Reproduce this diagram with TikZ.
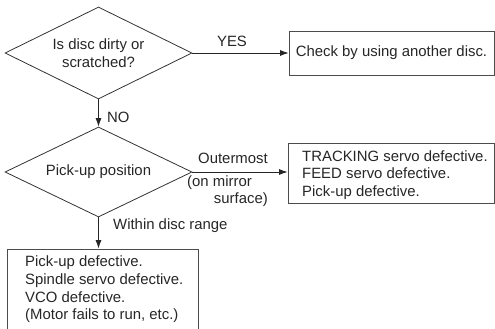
\documentclass[tikz,border=0pt]{standalone}
\usepackage{fontspec}
\setmainfont{Liberation Sans}
\usetikzlibrary{shapes.geometric,arrows.meta}
\begin{document}
\begin{tikzpicture}[x=1pt,y=-1pt,
  every node/.style={font=\fontsize{14.9}{17.6}\selectfont, text=black!85},
  dia/.style={draw=black!80, line width=0.8pt, diamond, inner sep=0pt, aspect=2, align=center},
  box/.style={draw=black!70, line width=0.8pt, rectangle, inner sep=0pt},
  txt/.style={inner sep=0pt, align=left},
  lbl/.style={inner sep=0pt},
  conn/.style={draw=black!85, line width=0.8pt, -{Latex[length=8.5pt,width=6pt]}}
]
\useasboundingbox (0,0) rectangle (495,329);
% decisions
\node[dia, minimum width=187pt, minimum height=92pt] (d1) at (98.5,53) {Is disc dirty or\\scratched?};
\node[dia, minimum width=187pt, minimum height=90pt] (d2) at (98.5,172) {Pick-up position};
% result boxes
\node[box, minimum width=205pt, minimum height=44pt, align=center] (b1) at (391.5,53) {Check by using another disc.};
\node[box, minimum width=206pt, minimum height=60pt] (b2) at (391,173) {};
\node[txt, anchor=west] (t2) at (302,175) {TRACKING servo defective.\\FEED servo defective.\\Pick-up defective.};
\node[box, minimum width=191pt, minimum height=84pt] (b3) at (102.5,291) {};
\node[txt, anchor=west] (t3) at (25,289.5) {Pick-up defective.\\Spindle servo defective.\\VCO defective.\\(Motor fails to run, etc.)};
% connectors
\draw[conn] (d1.east) -- (d1.east -| b1.west);
\draw[conn] (d1.south) -- (d2.north);
\draw[conn] (d2.east) -- (d2.east -| b2.west);
\draw[conn] (d2.south) -- (d2.south |- b3.north);
% labels
\node[lbl] (yes) at (232,41) {YES};
\node[lbl, anchor=west] (no) at (107,117) {NO};
\node[lbl, anchor=west] (outer) at (198,158) {Outermost};
\node[lbl, anchor=west] (mirror) at (187,183) {(on mirror};
\node[lbl, anchor=east] (surf) at (268,200) {surface)};
\node[lbl, anchor=west] (within) at (113,226) {Within disc range};
\end{tikzpicture}
\end{document}
